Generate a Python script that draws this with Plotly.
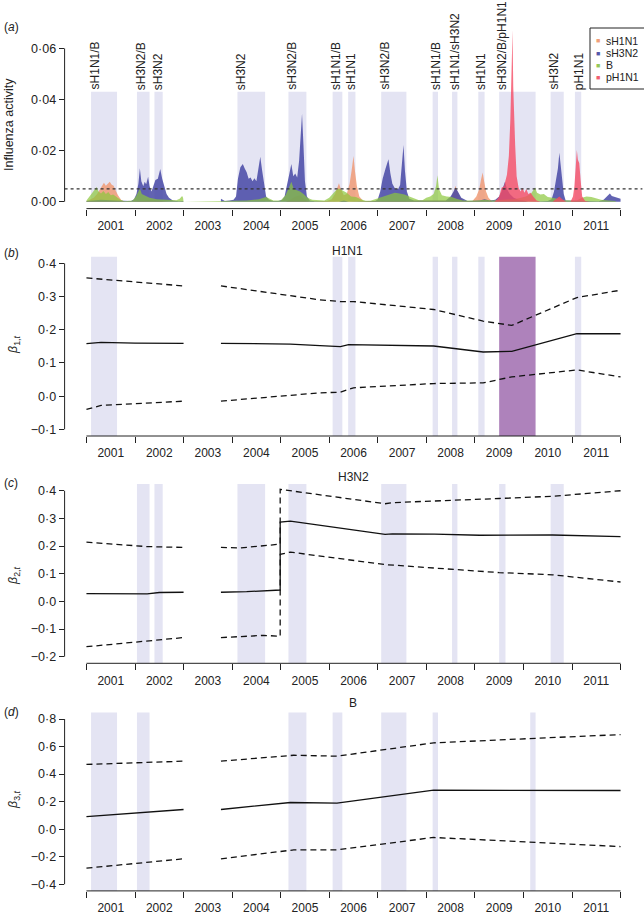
import plotly.graph_objects as go

# ---------------- DATA ----------------
years = [2001, 2002, 2003, 2004, 2005, 2006, 2007, 2008, 2009, 2010, 2011]

# Panel (a): influenza activity per subtype (time in years, activity)
sH1N1_t = [2001.00, 2001.08, 2001.15, 2001.22, 2001.28, 2001.32, 2001.36, 2001.40, 2001.44, 2001.48,
           2001.52, 2001.56, 2001.60, 2001.65, 2001.72, 2001.80,
           2002.10, 2002.30, 2002.50, 2002.70,
           2005.10, 2005.20, 2005.30, 2005.40, 2005.50, 2005.60,
           2005.95, 2006.05, 2006.12, 2006.17, 2006.20, 2006.24, 2006.30, 2006.36, 2006.42, 2006.46,
           2006.50, 2006.53, 2006.57, 2006.62, 2006.70,
           2008.45, 2008.52, 2008.57, 2008.60, 2008.64, 2008.70, 2008.78,
           2008.95, 2009.03, 2009.09, 2009.13, 2009.16, 2009.19, 2009.23, 2009.28, 2009.36]
sH1N1_v = [0.0002, 0.0008, 0.0015, 0.0030, 0.0048, 0.0065, 0.0074, 0.0062, 0.0072, 0.0078,
           0.0066, 0.0062, 0.0045, 0.0025, 0.0006, 0.0,
           0.0003, 0.0008, 0.0004, 0.0,
           0.0, 0.0008, 0.0020, 0.0025, 0.0008, 0.0,
           0.0003, 0.0010, 0.0030, 0.0060, 0.0072, 0.0050, 0.0025, 0.0030, 0.0070, 0.0120,
           0.0179, 0.0120, 0.0060, 0.0020, 0.0003,
           0.0005, 0.0020, 0.0040, 0.0062, 0.0040, 0.0015, 0.0003,
           0.0003, 0.0020, 0.0050, 0.0090, 0.0114, 0.0080, 0.0040, 0.0015, 0.0]

sH3N2_t = [2001.00, 2001.30, 2001.60, 2001.85,
           2001.92, 2001.98, 2002.03, 2002.07, 2002.10, 2002.13, 2002.17, 2002.20, 2002.23, 2002.27,
           2002.30, 2002.34, 2002.38, 2002.42, 2002.47, 2002.52, 2002.56, 2002.60, 2002.65, 2002.70,
           2002.78, 2002.90, 2002.99, 2003.00,
           2003.769, 2003.77, 2003.80, 2003.85, 2003.95, 2004.03, 2004.08, 2004.12, 2004.17, 2004.22,
           2004.26, 2004.30, 2004.34, 2004.38, 2004.42, 2004.46, 2004.50, 2004.54, 2004.58, 2004.62,
           2004.66, 2004.70, 2004.76, 2004.85,
           2004.95, 2005.03, 2005.08, 2005.13, 2005.18, 2005.22, 2005.26, 2005.30, 2005.34, 2005.38,
           2005.42, 2005.44, 2005.47, 2005.50, 2005.54, 2005.60, 2005.70,
           2006.20, 2006.30, 2006.40,
           2006.95, 2007.00, 2007.05, 2007.10, 2007.16, 2007.20, 2007.22, 2007.26, 2007.30, 2007.36,
           2007.42, 2007.46, 2007.50, 2007.53, 2007.56, 2007.60, 2007.65, 2007.75,
           2008.40, 2008.50, 2008.56, 2008.60, 2008.65, 2008.72, 2008.85,
           2009.10, 2009.20, 2009.30, 2009.42, 2009.50, 2009.55, 2009.60, 2009.62, 2009.66, 2009.72,
           2009.80, 2009.90, 2010.00, 2010.10,
           2010.50, 2010.58, 2010.63, 2010.67, 2010.71, 2010.74, 2010.77, 2010.80, 2010.83, 2010.87,
           2011.55, 2011.65, 2011.70, 2011.74, 2011.78, 2011.82, 2011.88, 2011.95, 2012.00]
sH3N2_v = [0.0003, 0.0008, 0.0005, 0.0002,
           0.0003, 0.0010, 0.0030, 0.0070, 0.0131, 0.0080, 0.0060, 0.0078, 0.0068, 0.0098,
           0.0060, 0.0040, 0.0060, 0.0085, 0.0090, 0.0128, 0.0090, 0.0060, 0.0030, 0.0015,
           0.0005, 0.0002, 0.0003, 0.0,
           0.0, 0.0012, 0.0008, 0.0003, 0.0005, 0.0008, 0.0020, 0.0090, 0.0135, 0.0148,
           0.0130, 0.0115, 0.0090, 0.0095, 0.0080, 0.0092, 0.0080, 0.0125, 0.0176, 0.0120,
           0.0060, 0.0020, 0.0008, 0.0003,
           0.0003, 0.0008, 0.0020, 0.0060, 0.0110, 0.0148, 0.0100, 0.0110, 0.0095, 0.0160,
           0.0280, 0.0345, 0.0220, 0.0080, 0.0020, 0.0005, 0.0002,
           0.0, 0.0005, 0.0,
           0.0003, 0.0010, 0.0040, 0.0090, 0.0130, 0.0155, 0.0166, 0.0110, 0.0070, 0.0050,
           0.0050, 0.0065, 0.0150, 0.0222, 0.0120, 0.0040, 0.0012, 0.0005,
           0.0005, 0.0020, 0.0040, 0.0055, 0.0040, 0.0015, 0.0003,
           0.0005, 0.0010, 0.0005, 0.0008, 0.0020, 0.0040, 0.0065, 0.0078, 0.0050, 0.0030,
           0.0015, 0.0008, 0.0005, 0.0,
           0.0003, 0.0010, 0.0040, 0.0080, 0.0130, 0.0192, 0.0140, 0.0070, 0.0030, 0.0005,
           0.0002, 0.0008, 0.0018, 0.0025, 0.0032, 0.0022, 0.0018, 0.0015, 0.0012]

B_t = [2001.00, 2001.06, 2001.12, 2001.17, 2001.21, 2001.25, 2001.30, 2001.35, 2001.40, 2001.45,
       2001.50, 2001.55, 2001.62, 2001.70, 2001.78,
       2001.95, 2002.02, 2002.07, 2002.10, 2002.14, 2002.20, 2002.30, 2002.45, 2002.60, 2002.75,
       2002.85, 2002.92, 2002.97, 2002.99, 2003.00,
       2004.30, 2004.55, 2004.70, 2004.78, 2004.85,
       2005.00, 2005.10, 2005.17, 2005.22, 2005.27, 2005.33, 2005.40, 2005.47, 2005.55, 2005.65, 2005.80,
       2005.90, 2006.00, 2006.08, 2006.14, 2006.20, 2006.28, 2006.36, 2006.45, 2006.55, 2006.65, 2006.75,
       2006.85, 2006.95, 2007.05, 2007.15, 2007.25, 2007.35, 2007.45, 2007.55, 2007.65, 2007.75, 2007.85,
       2007.92, 2008.00, 2008.08, 2008.15, 2008.20, 2008.23, 2008.26, 2008.32, 2008.42, 2008.52, 2008.62,
       2008.75,
       2009.05, 2009.20, 2009.35, 2009.60, 2009.80, 2009.95, 2010.05, 2010.15, 2010.20, 2010.24, 2010.28,
       2010.35, 2010.42, 2010.50, 2010.60, 2010.70, 2010.80,
       2011.10, 2011.20, 2011.30, 2011.40, 2011.50, 2011.60, 2011.75, 2011.90]
B_v = [0.0005, 0.0020, 0.0035, 0.0050, 0.0058, 0.0040, 0.0032, 0.0042, 0.0030, 0.0038,
       0.0025, 0.0028, 0.0018, 0.0008, 0.0002,
       0.0005, 0.0020, 0.0045, 0.0052, 0.0030, 0.0025, 0.0015, 0.0010, 0.0008, 0.0008,
       0.0006, 0.0012, 0.0022, 0.0015, 0.0,
       0.0005, 0.0010, 0.0018, 0.0012, 0.0005,
       0.0005, 0.0025, 0.0055, 0.0078, 0.0050, 0.0045, 0.0040, 0.0030, 0.0015, 0.0008, 0.0005,
       0.0005, 0.0015, 0.0030, 0.0045, 0.0052, 0.0042, 0.0035, 0.0020, 0.0018, 0.0010, 0.0004,
       0.0004, 0.0010, 0.0018, 0.0025, 0.0030, 0.0035, 0.0032, 0.0028, 0.0020, 0.0012, 0.0006,
       0.0006, 0.0015, 0.0020, 0.0030, 0.0060, 0.0104, 0.0050, 0.0025, 0.0020, 0.0018, 0.0012,
       0.0005,
       0.0005, 0.0008, 0.0005, 0.0008, 0.0010, 0.0015, 0.0020, 0.0030, 0.0042, 0.0056, 0.0035,
       0.0028, 0.0030, 0.0018, 0.0015, 0.0012, 0.0006,
       0.0005, 0.0015, 0.0020, 0.0018, 0.0012, 0.0008, 0.0005, 0.0003]

pH1N1_t = [2009.40, 2009.45, 2009.50, 2009.55, 2009.60, 2009.63, 2009.66, 2009.70, 2009.73, 2009.76,
           2009.775, 2009.79, 2009.81, 2009.83, 2009.86, 2009.90, 2009.94, 2009.98, 2010.02, 2010.06,
           2010.10, 2010.15, 2010.20, 2010.27, 2010.35,
           2010.60, 2010.68, 2010.74, 2010.80, 2010.88,
           2010.97, 2011.02, 2011.05, 2011.08, 2011.10, 2011.12, 2011.15, 2011.18, 2011.21, 2011.27,
           2011.35]
pH1N1_v = [0.0, 0.0008, 0.0020, 0.0055, 0.0060, 0.0090, 0.0105, 0.0180, 0.0320, 0.0550,
           0.0672, 0.0450, 0.0300, 0.0220, 0.0100, 0.0055, 0.0040, 0.0055, 0.0035, 0.0050,
           0.0030, 0.0035, 0.0020, 0.0005, 0.0,
           0.0, 0.0012, 0.0020, 0.0010, 0.0,
           0.0, 0.0020, 0.0060, 0.0140, 0.0202, 0.0165, 0.0150, 0.0080, 0.0020, 0.0003,
           0.0]

threshold = 0.005

# Epidemic seasons (shaded periods) and labels
season_start = [2001.095, 2002.04, 2002.40, 2004.11, 2005.16, 2006.07, 2006.39, 2007.07,
                2008.13, 2008.53, 2009.07, 2009.50, 2010.56, 2011.06]
season_end = [2001.63, 2002.30, 2002.57, 2004.68, 2005.53, 2006.27, 2006.54, 2007.59,
              2008.24, 2008.64, 2009.20, 2010.25, 2010.83, 2011.19]
season_label = ['sH1N1/B', 'sH3N2/B', 'sH3N2', 'sH3N2', 'sH3N2/B', 'sH1N1/B', 'sH1N1', 'sH3N2/B',
                'sH1N1/B', 'sH1N1/sH3N2', 'sH1N1', 'sH3N2/B/pH1N1', 'sH3N2', 'pH1N1']

h1_start = [2001.095, 2006.07, 2006.39, 2008.13, 2008.53, 2009.07, 2011.06]
h1_end = [2001.63, 2006.27, 2006.54, 2008.24, 2008.64, 2009.20, 2011.19]
pandemic_start = [2009.50]
pandemic_end = [2010.25]
h3_start = [2002.04, 2002.40, 2004.11, 2005.16, 2007.07, 2008.53, 2009.50, 2010.56]
h3_end = [2002.30, 2002.57, 2004.68, 2005.53, 2007.59, 2008.64, 2009.63, 2010.83]
b_start = [2001.095, 2002.04, 2005.16, 2006.07, 2007.07, 2008.13, 2010.14]
b_end = [2001.63, 2002.30, 2005.53, 2006.27, 2007.59, 2008.24, 2010.25]

# Panel (b): beta_1,t (H1N1)
b_mid_t = [2001.0, 2001.3, 2002.0, 2003.0, None, 2003.77, 2005.2, 2005.81, 2006.23, 2006.4, 2008.15,
           2009.17, 2009.76, 2011.1, 2012.0]
b_mid_v = [0.158, 0.162, 0.160, 0.159, None, 0.159, 0.157, 0.152, 0.149, 0.155, 0.151,
           0.133, 0.135, 0.188, 0.188]
b_up_t = [2001.0, 2003.0, None, 2003.77, 2005.81, 2006.23, 2006.5, 2008.15, 2009.17, 2009.76, 2011.1, 2012.0]
b_up_v = [0.356, 0.332, None, 0.332, 0.290, 0.285, 0.285, 0.261, 0.226, 0.213, 0.297, 0.319]
b_lo_t = [2001.0, 2001.3, 2003.0, None, 2003.77, 2005.81, 2006.23, 2006.5, 2008.15, 2009.17, 2009.76,
          2010.2, 2011.1, 2012.0]
b_lo_v = [-0.040, -0.028, -0.015, None, -0.015, 0.010, 0.012, 0.025, 0.038, 0.040, 0.058,
          0.065, 0.079, 0.058]

# Panel (c): beta_2,t (H3N2)
c_mid_t = [2001.0, 2002.25, 2002.5, 2003.0, None, 2003.77, 2004.3, 2004.99, 2004.99, 2005.2, 2007.15,
           2007.3, 2008.17, 2009.1, 2010.6, 2012.0]
c_mid_v = [0.028, 0.027, 0.032, 0.033, None, 0.033, 0.035, 0.041, 0.287, 0.290, 0.242,
           0.244, 0.243, 0.239, 0.240, 0.234]
c_up_t = [2001.0, 2002.25, 2003.0, None, 2003.77, 2004.17, 2004.99, 2004.99, 2007.15, 2007.3, 2009.5,
          2010.6, 2012.0]
c_up_v = [0.214, 0.198, 0.195, None, 0.195, 0.193, 0.207, 0.405, 0.353, 0.357, 0.372,
          0.380, 0.400]
c_lo_t = [2001.0, 2003.0, None, 2003.77, 2004.65, 2004.99, 2004.99, 2005.2, 2007.15, 2009.5,
          2010.6, 2012.0]
c_lo_v = [-0.164, -0.131, None, -0.131, -0.123, -0.126, 0.170, 0.178, 0.133, 0.104,
          0.096, 0.070]

# Panel (d): beta_3,t (B)
d_mid_t = [2001.0, 2001.97, 2003.0, None, 2003.77, 2005.2, 2006.16, 2008.15, 2012.0]
d_mid_v = [0.092, 0.119, 0.143, None, 0.143, 0.194, 0.189, 0.283, 0.281]
d_up_t = [2001.0, 2003.0, None, 2003.77, 2005.27, 2006.16, 2008.15, 2012.0]
d_up_v = [0.470, 0.494, None, 0.494, 0.537, 0.530, 0.627, 0.687]
d_lo_t = [2001.0, 2003.0, None, 2003.77, 2005.27, 2006.16, 2008.15, 2012.0]
d_lo_v = [-0.283, -0.215, None, -0.215, -0.150, -0.150, -0.060, -0.126]

# Tick labels
a_ticks = [0.0, 0.02, 0.04, 0.06]
a_ticktext = ['0·00', '0·02', '0·04', '0·06']
b_ticks = [-0.1, 0.0, 0.1, 0.2, 0.3, 0.4]
b_ticktext = ['−0·1', '0·0', '0·1', '0·2', '0·3', '0·4']
c_ticks = [-0.2, -0.1, 0.0, 0.1, 0.2, 0.3, 0.4]
c_ticktext = ['−0·2', '−0·1', '0·0', '0·1', '0·2', '0·3', '0·4']
d_ticks = [-0.4, -0.2, 0.0, 0.2, 0.4, 0.6, 0.8]
d_ticktext = ['−0·4', '−0·2', '0·0', '0·2', '0·4', '0·6', '0·8']

subtype_names = ['sH1N1', 'sH3N2', 'B', 'pH1N1']
subtype_colors = ['rgba(240,150,110,0.8)', 'rgba(70,72,165,0.85)', 'rgba(140,200,60,0.7)',
                  'rgba(245,75,100,0.8)']
legend_colors = ['#F0A07A', '#5558A8', '#95C85A', '#F26070']

# ---------------- FIGURE ----------------
W, H = 644, 914
FONT = 'Liberation Sans'
TXT = '#222222'
BAND = '#E4E4F3'
PURPLE = '#AE82BB'


def py(p):
    return 1 - p / H


x_range = [2000.55, 2012.45]
x_domain = [64.6 / W, 642.4 / W]

panels = [
    ('y', [-0.0027, 0.0699], 23.1, 208.6, a_ticks, a_ticktext),
    ('y2', [-0.12, 0.42], 256.7, 436.0, b_ticks, b_ticktext),
    ('y3', [-0.224, 0.424], 484.1, 663.3, c_ticks, c_ticktext),
    ('y4', [-0.448, 0.848], 712.4, 890.9, d_ticks, d_ticktext),
]

fig = go.Figure()

series = [(sH1N1_t, sH1N1_v), (sH3N2_t, sH3N2_v), (B_t, B_v), (pH1N1_t, pH1N1_v)]
for (t, v), name, col in zip(series, subtype_names, subtype_colors):
    fig.add_trace(go.Scatter(x=t, y=v, mode='lines', line=dict(width=0, color=col),
                             fill='tozeroy', fillcolor=col, name=name, showlegend=False,
                             hoverinfo='skip', xaxis='x', yaxis='y', cliponaxis=False))

line_sets = [
    ('x2', 'y2', [(b_mid_t, b_mid_v, 'solid'), (b_up_t, b_up_v, 'dash'), (b_lo_t, b_lo_v, 'dash')]),
    ('x3', 'y3', [(c_mid_t, c_mid_v, 'solid'), (c_up_t, c_up_v, 'dash'), (c_lo_t, c_lo_v, 'dash')]),
    ('x4', 'y4', [(d_mid_t, d_mid_v, 'solid'), (d_up_t, d_up_v, 'dash'), (d_lo_t, d_lo_v, 'dash')]),
]
for xa, ya, lines in line_sets:
    for t, v, style in lines:
        fig.add_trace(go.Scatter(x=t, y=v, mode='lines',
                                 line=dict(color='#111111', width=1.3,
                                           dash='solid' if style == 'solid' else '6px,4px'),
                                 showlegend=False, hoverinfo='skip', xaxis=xa, yaxis=ya,
                                 connectgaps=False))

shapes = []
annotations = []

for s, e, lab in zip(season_start, season_end, season_label):
    shapes.append(dict(type='rect', xref='x', yref='y', x0=s, x1=e, y0=0, y1=0.043,
                       fillcolor=BAND, line=dict(width=0), layer='below'))
    annotations.append(dict(x=s, y=0.043, xref='x', yref='y', text=lab, textangle=-90,
                            showarrow=False, xanchor='center', yanchor='bottom', xshift=3.5,
                            yshift=0, font=dict(family=FONT, size=12, color=TXT)))


def add_bands(starts, ends, xref, yref, color):
    for s, e in zip(starts, ends):
        shapes.append(dict(type='rect', xref=xref, yref=yref + ' domain', x0=s, x1=e, y0=0, y1=1,
                           fillcolor=color, line=dict(width=0), layer='below'))


add_bands(h1_start, h1_end, 'x2', 'y2', BAND)
add_bands(pandemic_start, pandemic_end, 'x2', 'y2', PURPLE)
add_bands(h3_start, h3_end, 'x3', 'y3', BAND)
add_bands(b_start, b_end, 'x4', 'y4', BAND)

shapes.append(dict(type='line', xref='x domain', yref='y', x0=0, x1=1, y0=threshold, y1=threshold,
                   line=dict(color='#333333', width=1.2, dash='dot')))

layout_axes = {}
for i, (yid, yr, top, bot, tv, tt) in enumerate(panels):
    n = '' if i == 0 else str(i + 1)
    xid = 'x' + n
    layout_axes['xaxis' + n] = dict(
        domain=x_domain, range=x_range, anchor=yid, showgrid=False, zeroline=False, showline=False,
        tickmode='array', tickvals=[y + 0.5 for y in years], ticktext=[str(y) for y in years],
        ticks='outside', ticklen=6, tickcolor='rgba(0,0,0,0)',
        tickfont=dict(family=FONT, size=12, color=TXT),
        minor=dict(tickmode='array', tickvals=years + [years[-1] + 1], ticks='outside', ticklen=6,
                   tickwidth=1, tickcolor=TXT, showgrid=False),
        fixedrange=True)
    layout_axes['yaxis' + n] = dict(
        domain=[py(bot), py(top)], range=yr, anchor=xid, showgrid=False, zeroline=False,
        showline=False, tickmode='array', tickvals=tv, ticktext=tt, ticks='outside', ticklen=5,
        tickwidth=1, tickcolor=TXT, tickfont=dict(family=FONT, size=12.5, color=TXT),
        fixedrange=True)
    shapes.append(dict(type='line', xref=xid + ' domain', yref=yid, x0=0, x1=0, y0=tv[0], y1=tv[-1],
                       line=dict(color=TXT, width=1)))
    shapes.append(dict(type='line', xref=xid, yref=yid + ' domain', x0=years[0], x1=years[-1] + 1,
                       y0=0, y1=0, line=dict(color=TXT, width=1)))

for letter, ypx in zip(['a', 'b', 'c', 'd'], [26.7, 253, 483, 712]):
    annotations.append(dict(x=2 / W, y=py(ypx), xref='paper', yref='paper',
                            text='(<i>%s</i>)' % letter, showarrow=False, xanchor='left',
                            yanchor='middle', font=dict(family=FONT, size=12, color=TXT)))

ytitles = [('Influenza activity', 9, 125), ('<i>β</i><sub>1,<i>t</i></sub>', 14, 345),
           ('<i>β</i><sub>2,<i>t</i></sub>', 14, 576), ('<i>β</i><sub>3,<i>t</i></sub>', 14, 800)]
for txt, xpx, ypx in ytitles:
    annotations.append(dict(x=xpx / W, y=py(ypx), xref='paper', yref='paper', text=txt,
                            textangle=-90, showarrow=False, xanchor='center', yanchor='middle',
                            font=dict(family=FONT, size=12.5, color=TXT)))

for txt, xpx, ypx in [('H1N1', 347.5, 250.7), ('H3N2', 353, 476.7), ('B', 353, 703.3)]:
    annotations.append(dict(x=xpx / W, y=py(ypx), xref='paper', yref='paper', text=txt,
                            showarrow=False, xanchor='center', yanchor='middle',
                            font=dict(family=FONT, size=12, color=TXT)))

shapes.append(dict(type='rect', xref='paper', yref='paper', x0=590 / W, x1=1.02, y0=py(89),
                   y1=py(28), line=dict(color=TXT, width=1), fillcolor='white'))
for k, (name, col) in enumerate(zip(subtype_names, legend_colors)):
    ypx = 41 + k * 12
    annotations.append(dict(x=598.3 / W, y=py(ypx), xref='paper', yref='paper', text='■',
                            showarrow=False, xanchor='center', yanchor='middle', borderpad=0,
                            font=dict(family=FONT, size=7, color=col)))
    annotations.append(dict(x=605 / W, y=py(ypx), xref='paper', yref='paper', text=name,
                            showarrow=False, xanchor='left', yanchor='middle', borderpad=0,
                            font=dict(family=FONT, size=10.5, color=TXT)))

fig.update_layout(width=W, height=H, margin=dict(l=0, r=0, t=0, b=0),
                  paper_bgcolor='white', plot_bgcolor='white', showlegend=False,
                  shapes=shapes, annotations=annotations,
                  font=dict(family=FONT, color=TXT), **layout_axes)

fig.write_html('out.html', config={'displayModeBar': False},
               post_script="document.body.style.margin='0';document.body.style.padding='0';"
                           "document.body.style.overflow='hidden';")
